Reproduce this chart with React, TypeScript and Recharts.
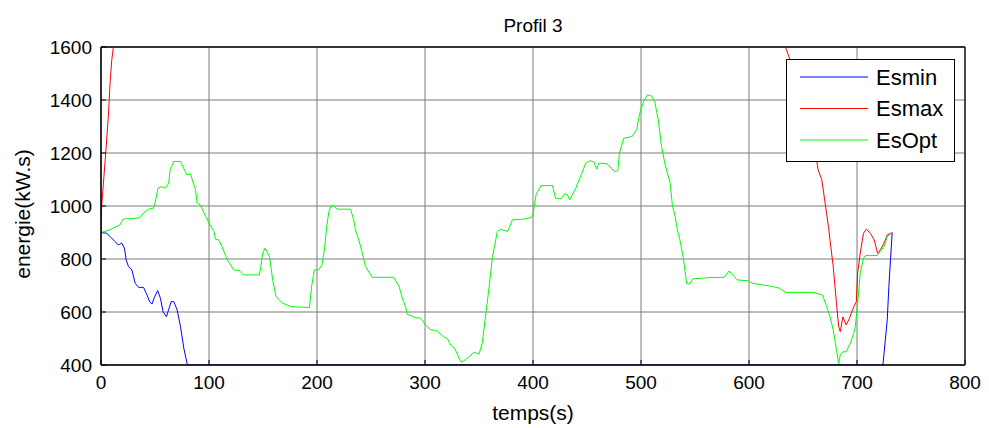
import { LineChart, Line, XAxis, YAxis, CartesianGrid, Label } from 'recharts';

const FONT = '"Liberation Sans", Arial, Helvetica, sans-serif';

// time axis ticks (s) and energy ticks (kW.s)
const xTicks = [0, 100, 200, 300, 400, 500, 600, 700, 800];
const yTicks = [400, 600, 800, 1000, 1200, 1400, 1600];

// Esmin: lower bound of stored energy
const tMin = [0, 5.3, 8.4, 13, 16, 19.2, 21.7, 23.3, 25.5, 28.6, 31.7, 34.8, 39.4, 42, 45, 47.2, 49.7, 52.5, 55, 57.5, 60.6, 62.7, 65, 67.4, 70.5, 73.6, 76.7, 79.8, 81, 724, 728, 729.5, 731, 732.6];
const eMin = [900, 897, 885, 866, 853, 860, 841, 796, 771, 759, 708, 693, 693, 670, 639, 630, 658, 681, 652, 601, 582, 610, 639, 639, 608, 545, 463, 404, 400, 400, 570, 696, 797, 900];

// Esmax: upper bound (runs off the top of the axes between ~12 s and ~634 s)
const tMax = [0, 0.6, 2, 4.6, 6.8, 8.4, 10, 11.5, 14, 60, 300, 600, 630, 633.8, 639, 648.8, 656.5, 661, 664, 667.4, 670.5, 673.6, 675, 678, 681, 683, 684.5, 687, 690, 693, 697, 699.4, 700.6, 703, 706, 708.7, 712.4, 716, 719, 721.7, 725, 728, 732.6];
const eMax = [900, 998, 1073, 1212, 1338, 1464, 1552, 1600, 1680, 2100, 2600, 2000, 1660, 1600, 1540, 1414, 1300, 1212, 1137, 1099, 1011, 922, 872, 771, 633, 545, 526, 582, 551, 576, 620, 639, 747, 822, 897, 913, 897, 872, 822, 835, 860, 891, 900];

// EsOpt: optimal trajectory
const tOpt = [0, 8, 17.7, 20, 24, 27, 36, 39, 44, 48.5, 50, 52.8, 56, 59.6, 62.7, 64, 67.4, 73.6, 78, 79.8, 82.9, 84.5, 87.6, 89, 92, 97, 100, 104.7, 106, 109, 112, 117, 123, 128, 132, 146.6, 148, 149.7, 152, 156, 159, 162, 168.3, 176, 193, 195, 197.5, 201.5, 204.6, 206.8, 209, 211, 213, 215.5, 219, 231, 234, 235.6, 238.7, 242, 245, 251, 271, 276, 279, 282, 283.6, 291, 296, 300.5, 305, 311, 317, 320.7, 323.8, 327.6, 331.6, 333.7, 337.8, 345.5, 350, 353, 356, 359.4, 362.5, 367, 370, 376.5, 381, 393.5, 399.7, 402.8, 407.4, 418, 421, 426, 429.4, 432, 434, 439.6, 444, 448.8, 452.8, 456.4, 459, 461, 468.7, 475.5, 478.5, 480, 484, 491.7, 496, 498.5, 502.5, 506, 510, 513, 516, 519, 522, 527, 529, 531.6, 533.7, 536, 539, 542.3, 544.8, 547.9, 563.8, 577, 581.6, 589, 599, 603.7, 622, 628, 634, 659.6, 668, 672, 675, 678, 681, 683, 684.5, 687, 690, 693.8, 697, 698.4, 700.6, 703, 706, 707.8, 718.6, 725, 728, 732.6];
const eOpt = [900, 910, 929, 948, 954, 951, 956, 972, 988, 992, 1011, 1067, 1073, 1067, 1086, 1137, 1168, 1168, 1130, 1117, 1121, 1099, 1061, 1011, 1004, 960, 935, 903, 875, 872, 847, 796, 759, 756, 740, 740, 771, 822, 841, 809, 721, 658, 633, 620, 617, 696, 759, 759, 778, 834, 922, 979, 1000, 1000, 988, 988, 948, 910, 872, 822, 771, 731, 731, 696, 652, 620, 591, 579, 576, 551, 534, 529, 507, 500, 475, 462, 425, 410, 421, 448, 441, 482, 582, 696, 809, 904, 912, 904, 948, 951, 960, 1042, 1077, 1077, 1029, 1027, 1046, 1042, 1023, 1067, 1111, 1162, 1171, 1166, 1139, 1162, 1159, 1130, 1133, 1199, 1256, 1262, 1288, 1344, 1395, 1420, 1414, 1388, 1325, 1225, 1162, 1086, 1004, 960, 910, 872, 809, 708, 705, 725, 730, 731, 755, 721, 718, 708, 696, 690, 674, 674, 664, 620, 582, 532, 456, 406, 437, 450, 450, 482, 520, 545, 633, 747, 803, 813, 813, 847, 885, 900];

const toPoints = (ts: number[], es: number[]) => ts.map((t, i) => ({ t, e: es[i] }));

const series = [
  { name: 'Esmin', color: '#0000ff', data: toPoints(tMin, eMin) },
  { name: 'Esmax', color: '#ff0000', data: toPoints(tMax, eMax) },
  { name: 'EsOpt', color: '#00ff00', data: toPoints(tOpt, eOpt) },
];

const tickStyle = { fontSize: 19, fill: '#000', fontFamily: FONT };
const hiddenTick = () => <g />;

function LegendBox() {
  return (
    <svg width={170} height={104} style={{ position: 'absolute', left: 778, top: 51 }}>
      <rect x={0.5} y={0.5} width={168} height={102} fill="#fff" stroke="#000" strokeWidth={1} />
      {series.map((s, i) => (
        <g key={s.name}>
          <line x1={14} x2={82} y1={18 + i * 31.5} y2={18 + i * 31.5} stroke={s.color} strokeWidth={1} />
          <text x={90} y={18 + i * 31.5} dy="0.36em" fontSize={22} fontFamily={FONT} fill="#000">
            {s.name}
          </text>
        </g>
      ))}
    </svg>
  );
}

export default function App() {
  return (
    <div style={{ position: 'relative', width: 973, height: 420 }}>
      <LineChart width={973} height={420} margin={{ top: 31, right: 8, bottom: 0, left: 0 }}>
        <CartesianGrid stroke="#7a7a7a" strokeWidth={1} horizontalValues={yTicks} verticalValues={xTicks} />
        <XAxis
          type="number"
          dataKey="t"
          domain={[0, 800]}
          ticks={xTicks}
          allowDataOverflow
          height={63}
          tickSize={-5}
          tickMargin={16}
          tick={tickStyle}
          axisLine={{ stroke: '#000', strokeWidth: 1.5 }}
          tickLine={{ stroke: '#000' }}
        >
          <Label value="temps(s)" position="insideBottom" offset={8} fontSize={21} fill="#000" fontFamily={FONT} />
        </XAxis>
        <XAxis
          xAxisId="top"
          orientation="top"
          type="number"
          dataKey="t"
          domain={[0, 800]}
          ticks={xTicks}
          height={8}
          tickSize={-5}
          tick={hiddenTick}
          axisLine={{ stroke: '#333', strokeWidth: 2 }}
          tickLine={{ stroke: '#000' }}
        >
          <Label value="Profil 3" position="top" offset={7} fontSize={19} fill="#000" fontFamily={FONT} />
        </XAxis>
        <YAxis
          type="number"
          dataKey="e"
          domain={[400, 1600]}
          ticks={yTicks}
          allowDataOverflow
          width={93}
          tickSize={-5}
          tickMargin={14}
          tick={tickStyle}
          axisLine={{ stroke: '#000', strokeWidth: 1.5 }}
          tickLine={{ stroke: '#000' }}
          label={{
            content: () => (
              <text
                x={14}
                y={206}
                transform="rotate(-90 14 206)"
                textAnchor="middle"
                dominantBaseline="central"
                fontSize={21}
                fontFamily={FONT}
                fill="#000"
              >
                energie(kW.s)
              </text>
            ),
          }}
        />
        <YAxis
          yAxisId="right"
          orientation="right"
          type="number"
          domain={[400, 1600]}
          ticks={yTicks}
          width={8}
          tickSize={-5}
          tick={hiddenTick}
          axisLine={{ stroke: '#222', strokeWidth: 1.5 }}
          tickLine={{ stroke: '#000' }}
        />
        {series.map((s) => (
          <Line
            key={s.name}
            data={s.data}
            dataKey="e"
            name={s.name}
            type="linear"
            stroke={s.color}
            strokeWidth={1}
            dot={false}
            activeDot={false}
            isAnimationActive={false}
          />
        ))}
      </LineChart>
      <LegendBox />
    </div>
  );
}
